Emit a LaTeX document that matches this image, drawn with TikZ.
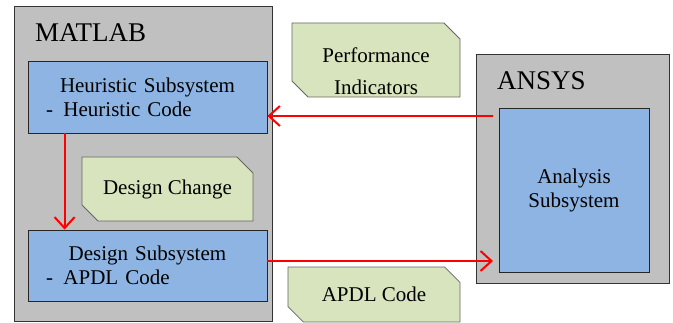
\documentclass[tikz,border=0pt]{standalone}
\usepackage{fontspec}
\setmainfont{Liberation Serif}
\usetikzlibrary{arrows.meta, shapes.misc}
\definecolor{toolgray}{RGB}{192,192,192}
\definecolor{subblue}{RGB}{141,180,226}
\definecolor{notegreen}{RGB}{215,228,189}

\begin{document}
\begin{tikzpicture}
    [
      x=1pt,
      y=-1pt,
      tool/.style={rectangle,draw=black!80,fill=toolgray,line width=0.8pt,inner sep=0pt},
      sub/.style={rectangle,draw=black!85,fill=subblue,line width=0.8pt,inner sep=0pt,
        font=\fontsize{21}{24}\selectfont},
      note/.style={chamfered rectangle,chamfered rectangle corners={north east,south west},
        chamfered rectangle sep=8pt,draw=black!60,fill=notegreen,line width=0.8pt,
        inner sep=0pt,font=\fontsize{21}{24}\selectfont},
      flow/.style={draw=red,line width=2pt,-{Straight Barb[length=11pt,width=20pt]}},
    ]
    \useasboundingbox (0, 0) rectangle (673, 323);

    % tools
    \node at (143, 163.5) [tool, minimum width=258pt, minimum height=315pt] (matlab) {};
    \node at (572.5, 168.5) [tool, minimum width=193pt, minimum height=229pt] (ansys) {};
    \node at (35, 42) [anchor=base west, inner sep=0pt, font=\fontsize{27}{30}\selectfont] (matlabl) {MATLAB};
    \node at (497, 90) [anchor=base west, inner sep=0pt, font=\fontsize{27}{30}\selectfont] (ansysl) {ANSYS};

    % subsystems
    \node at (147.5, 97) [sub, inner xsep=18pt, text width=203pt, align=left, minimum height=72pt] (heur)
      {\makebox[\linewidth]{Heuristic Subsystem}\\-\enspace Heuristic Code};
    \node at (147.5, 265.5) [sub, inner xsep=18pt, text width=203pt, align=left, minimum height=71pt] (dsub)
      {\makebox[\linewidth]{Design Subsystem}\\-\enspace APDL Code};
    \node at (574, 190) [sub, align=center, minimum width=150pt, minimum height=164pt] (anal)
      {Analysis\\Subsystem};

    % notes
    \node at (376, 60) [note, minimum width=168pt, minimum height=74pt] (perf)
      {\raisebox{0pt}[\dimexpr\height+14pt\relax][\dimexpr\depth-14pt\relax]{%
        \begin{tabular}{@{}c@{}}Performance\\[8pt]Indicators\end{tabular}}};
    \node at (167.5, 189) [note, minimum width=171pt, minimum height=64pt] (dchg) {Design Change};
    \node at (374, 294.5) [note, minimum width=172pt, minimum height=55pt] (apdl) {APDL Code};

    % data flow
    \coordinate (ain) at (493, 116);
    \coordinate (aout) at (493, 261);
    \draw[flow] (ain) -- (ain -| heur.east);
    \draw[flow] (aout -| dsub.east) -- (aout);
    \draw[flow] ([xshift=37pt]heur.south west) -- ([xshift=37pt]dsub.north west);
  \end{tikzpicture}
\end{document}
